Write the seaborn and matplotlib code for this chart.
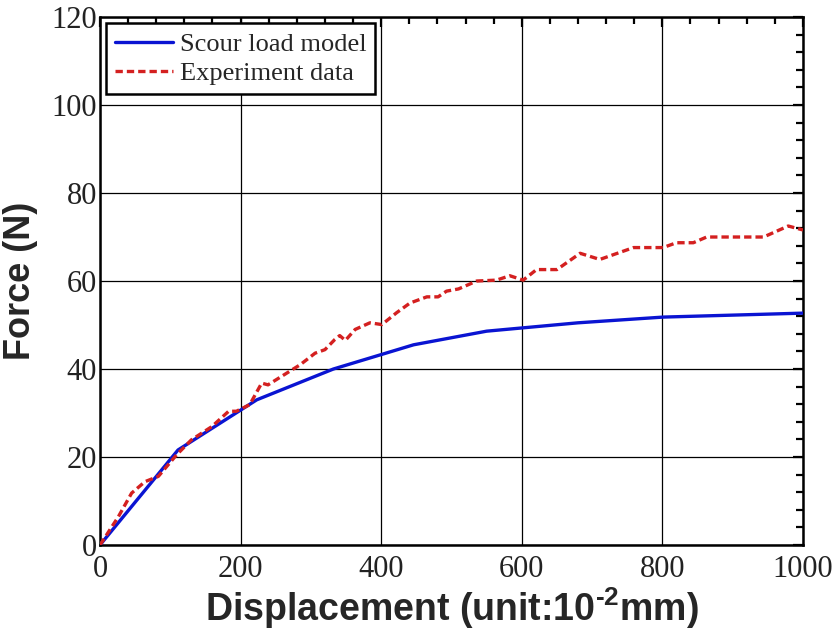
import numpy as np
import pandas as pd
import seaborn as sns
import matplotlib
matplotlib.use("Agg")
import matplotlib.pyplot as plt
from matplotlib.ticker import MultipleLocator

# Scour load model (displacement in 10^-2 mm, force in N)
model_disp = [0, 111, 223, 332, 446, 550, 680, 801, 1000]
model_force = [0, 21.6, 33.0, 40.0, 45.5, 48.6, 50.5, 51.8, 52.7]

# Measured load-displacement record
exp_disp = [0, 26, 45, 64, 83, 109, 130, 159, 183, 194, 213, 230, 239, 270, 285,
            306, 320, 334, 341, 349, 363, 384, 401, 422, 441, 465, 481, 493, 510,
            536, 564, 583, 602, 621, 650, 683, 711, 759, 801, 820, 844, 863, 944,
            979, 1000]
exp_force = [0, 6.4, 11.8, 14.4, 15.6, 20.5, 23.9, 26.9, 30.4, 30.4, 31.9, 36.8,
             36.4, 39.5, 41.0, 43.6, 44.4, 46.7, 47.6, 46.5, 49.0, 50.5, 50.1, 52.8,
             55.0, 56.4, 56.4, 57.7, 58.2, 60.0, 60.2, 61.2, 60.2, 62.6, 62.6, 66.3,
             64.9, 67.6, 67.6, 68.7, 68.7, 70.0, 70.0, 72.5, 71.6]

series_names = ["Scour load model", "Experiment data"]
x_label = "Displacement (unit:10$^{\\text{-2}}$mm)"
y_label = "Force (N)"

sns.set_theme(style="white")
plt.rcParams["mathtext.fontset"] = "custom"
plt.rcParams["mathtext.rm"] = "Liberation Sans:bold"
plt.rcParams["mathtext.bf"] = "Liberation Sans:bold"
plt.rcParams["mathtext.default"] = "rm"

fig = plt.figure(figsize=(8.34, 6.3), dpi=100)
ax = fig.add_axes([0.1199, 0.1349, 0.8429, 0.8381])

df_model = pd.DataFrame({"disp": model_disp, "force": model_force})
df_exp = pd.DataFrame({"disp": exp_disp, "force": exp_force})

sns.lineplot(data=df_model, x="disp", y="force", ax=ax, color="#0a14d2",
             linewidth=2.4, estimator=None, sort=False, label=series_names[0],
             zorder=4)
sns.lineplot(data=df_exp, x="disp", y="force", ax=ax, color="#d42020",
             linewidth=2.4, estimator=None, sort=False, label=series_names[1],
             zorder=5, dashes=False)
ax.get_lines()[1].set_dashes([2.2, 1.2])

ax.set_xlim(0, 1000)
ax.set_ylim(0, 120)
ax.xaxis.set_major_locator(MultipleLocator(200))
ax.xaxis.set_minor_locator(MultipleLocator(40))
ax.yaxis.set_major_locator(MultipleLocator(20))
ax.yaxis.set_minor_locator(MultipleLocator(4))

ax.grid(True, which="major", color="black", linewidth=0.9)
ax.set_axisbelow(True)

for sp in ax.spines.values():
    sp.set_color("black")
    sp.set_linewidth(1.8)
    sp.set_visible(True)

ax.tick_params(which="both", direction="in", top=True, right=True,
               color="black", width=1.6)
ax.tick_params(which="major", length=7)
ax.tick_params(which="minor", length=5)
ax.tick_params(axis="x", which="major", pad=7)
ax.tick_params(axis="y", which="major", pad=2)

for lab in ax.get_xticklabels() + ax.get_yticklabels():
    lab.set_fontfamily("Liberation Serif")
    lab.set_fontsize(22)
    lab.set_color("#222222")

ax.set_xlabel(x_label, fontfamily="Liberation Sans", fontweight="bold",
              fontsize=27, labelpad=1)
ax.set_ylabel(y_label, fontfamily="Liberation Sans", fontweight="bold",
              fontsize=26, labelpad=10)

leg = ax.legend(loc="upper left", bbox_to_anchor=(0.008, 0.988),
                prop={"family": "Liberation Serif", "size": 19},
                frameon=True, fancybox=False, framealpha=1,
                edgecolor="black", handlelength=2.2, handletextpad=0.25,
                borderpad=0.35, labelspacing=0.2, borderaxespad=0.0)
leg.get_frame().set_linewidth(1.8)
leg.set_zorder(10)

fig.savefig("out.png", dpi=100, facecolor="white")
